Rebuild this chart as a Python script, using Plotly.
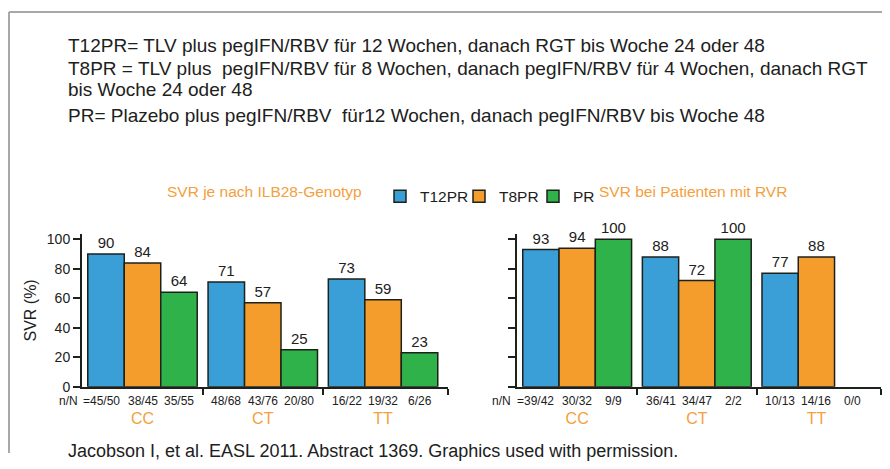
import plotly.graph_objects as go

# ---------------- data ----------------
genotypes = ["CC", "CT", "TT"]
series_names = ["T12PR", "T8PR", "PR"]

left_T12PR = [90, 71, 73]
left_T8PR = [84, 57, 59]
left_PR = [64, 25, 23]
left_n_T12PR = ["=45/50", "48/68", "16/22"]
left_n_T8PR = ["38/45", "43/76", "19/32"]
left_n_PR = ["35/55", "20/80", "6/26"]

right_T12PR = [93, 88, 77]
right_T8PR = [94, 72, 88]
right_PR = [100, 100, None]
right_n_T12PR = ["=39/42", "36/41", "10/13"]
right_n_T8PR = ["30/32", "34/47", "14/16"]
right_n_PR = ["9/9", "2/2", "0/0"]

y_ticks = [0, 20, 40, 60, 80, 100]

title_lines = [
    "T12PR= TLV plus pegIFN/RBV für 12 Wochen, danach RGT bis Woche 24 oder 48",
    "T8PR = TLV plus  pegIFN/RBV für 8 Wochen, danach pegIFN/RBV für 4 Wochen, danach RGT",
    "bis Woche 24 oder 48",
    "PR= Plazebo plus pegIFN/RBV  für12 Wochen, danach pegIFN/RBV bis Woche 48",
]
left_subtitle = "SVR je nach ILB28-Genotyp"
right_subtitle = "SVR bei Patienten mit RVR"
footnote = "Jacobson I, et al. EASL 2011. Abstract 1369. Graphics used with permission."
y_title = "SVR (%)"

# ---------------- styling ----------------
OFF = 8                      # page body margin
W, H = 890 - 2 * OFF, 469 - 2 * OFF
FONT = "Liberation Sans, Arial, Helvetica, sans-serif"
colors = ["#3a9fd6", "#f49c2c", "#2fb24a"]
ORANGE = "#f4a03c"
INK = "#1c211c"
bar_w = 0.3033
offsets = [-1.5 * bar_w, -0.5 * bar_w, 0.5 * bar_w]
xgroups = list(range(len(genotypes)))


def px_x(p):
    return (p - OFF) / W


def px_y(p):
    return 1 - (p - OFF) / H


fig = go.Figure()

left_vals = [left_T12PR, left_T8PR, left_PR]
right_vals = [right_T12PR, right_T8PR, right_PR]
left_ns = [left_n_T12PR, left_n_T8PR, left_n_PR]
right_ns = [right_n_T12PR, right_n_T8PR, right_n_PR]
legend_ids = ["legend", "legend2", "legend3"]

for side, (vals_list, xa, ya) in enumerate([(left_vals, "x", "y"), (right_vals, "x2", "y2")]):
    for i, (name, vals) in enumerate(zip(series_names, vals_list)):
        fig.add_trace(go.Bar(
            x=xgroups, y=vals, name=name, width=bar_w, offset=offsets[i],
            marker=dict(color=colors[i], line=dict(color=INK, width=1.5)),
            text=[("" if v is None else str(v)) for v in vals],
            textposition="outside", cliponaxis=False,
            textfont=dict(size=15, color=INK, family=FONT),
            xaxis=xa, yaxis=ya, showlegend=(side == 0), legend=legend_ids[i],
        ))

annotations = []
# n/N labels below each bar
for xa, ns_list, nlabel_x in [("x", left_ns, 80), ("x2", right_ns, 513)]:
    for i, ns in enumerate(ns_list):
        for g, t in zip(xgroups, ns):
            annotations.append(dict(
                x=g + offsets[i] + bar_w / 2, xref=xa, y=px_y(407.5), yref="paper",
                text=t, showarrow=False, font=dict(size=12, color=INK, family=FONT),
                xanchor="center", yanchor="middle", xshift=(-5 if t.startswith("=") else 0)))
    annotations.append(dict(x=px_x(nlabel_x), xref="paper", y=px_y(407.5), yref="paper",
                            text="n/N", showarrow=False, xanchor="right", yanchor="middle",
                            font=dict(size=12, color=INK, family=FONT)))

# title lines
for t, yy in zip(title_lines, [43, 67, 88, 115]):
    annotations.append(dict(x=px_x(66), y=px_y(yy), xref="paper", yref="paper", text=t,
                            showarrow=False, xanchor="left", yanchor="middle",
                            font=dict(size=19, color=INK, family=FONT)))

annotations += [
    dict(x=px_x(264), y=px_y(193), xref="paper", yref="paper", text=left_subtitle,
         showarrow=False, xanchor="center", yanchor="middle",
         font=dict(size=15.5, color=ORANGE, family=FONT)),
    dict(x=px_x(597), y=px_y(193), xref="paper", yref="paper", text=right_subtitle,
         showarrow=False, xanchor="left", yanchor="middle",
         font=dict(size=15.5, color=ORANGE, family=FONT)),
    dict(x=px_x(66), y=px_y(459), xref="paper", yref="paper", text=footnote,
         showarrow=False, xanchor="left", yanchor="middle",
         font=dict(size=18, color=INK, family=FONT)),
    dict(x=px_x(31), y=px_y(315), xref="paper", yref="paper", text=y_title,
         showarrow=False, textangle=-90, xanchor="center", yanchor="middle",
         font=dict(size=16, color=INK, family=FONT)),
]

xaxis_common = dict(
    range=[-0.503, 2.54], tickmode="array", tickvals=xgroups, ticktext=genotypes,
    ticks="", showline=True, linecolor=INK, linewidth=2, showgrid=False, zeroline=False,
    tickfont=dict(size=16, color=ORANGE, family=FONT), ticklabelstandoff=16,
    minor=dict(tickmode="array", tickvals=[0.5, 1.5, 2.54], ticks="outside",
               ticklen=6, tickwidth=2, tickcolor=INK, showgrid=False),
    fixedrange=True,
)
yaxis_common = dict(
    range=[0, 103.3], tickmode="array", tickvals=y_ticks, ticks="outside",
    ticklen=7, tickwidth=2, tickcolor=INK, showline=True, linecolor=INK, linewidth=2,
    showgrid=False, zeroline=False, tickfont=dict(size=14, color=INK, family=FONT),
    fixedrange=True,
)

legend_common = dict(orientation="h", xanchor="left", yanchor="top", y=px_y(181),
                     font=dict(size=15.5, color=INK, family=FONT), itemwidth=30,
                     bgcolor="rgba(0,0,0,0)")

ydom = [px_y(393), px_y(237)]
fig.update_layout(
    width=W, height=H, margin=dict(l=0, r=0, t=0, b=0),
    paper_bgcolor="white", plot_bgcolor="rgba(0,0,0,0)",
    barmode="overlay",
    font=dict(family=FONT, color=INK),
    xaxis=dict(domain=[px_x(82), px_x(448)], anchor="y", **xaxis_common),
    yaxis=dict(domain=ydom, anchor="x", showticklabels=True, **yaxis_common),
    xaxis2=dict(domain=[px_x(517), px_x(881)], anchor="y2", **xaxis_common),
    yaxis2=dict(domain=ydom, anchor="x2", showticklabels=False, **yaxis_common),
    legend=dict(x=px_x(380), **legend_common),
    legend2=dict(x=px_x(459), **legend_common),
    legend3=dict(x=px_x(533), **legend_common),
    annotations=annotations,
    shapes=[
        dict(type="line", xref="paper", yref="paper", x0=px_x(9), x1=1, y0=px_y(9), y1=px_y(9),
             line=dict(color="#a8a8a8", width=2)),
        dict(type="line", xref="paper", yref="paper", x0=px_x(9), x1=px_x(9), y0=0, y1=px_y(9),
             line=dict(color="#a8a8a8", width=2)),
    ],
)

fig.write_html("out.html")
